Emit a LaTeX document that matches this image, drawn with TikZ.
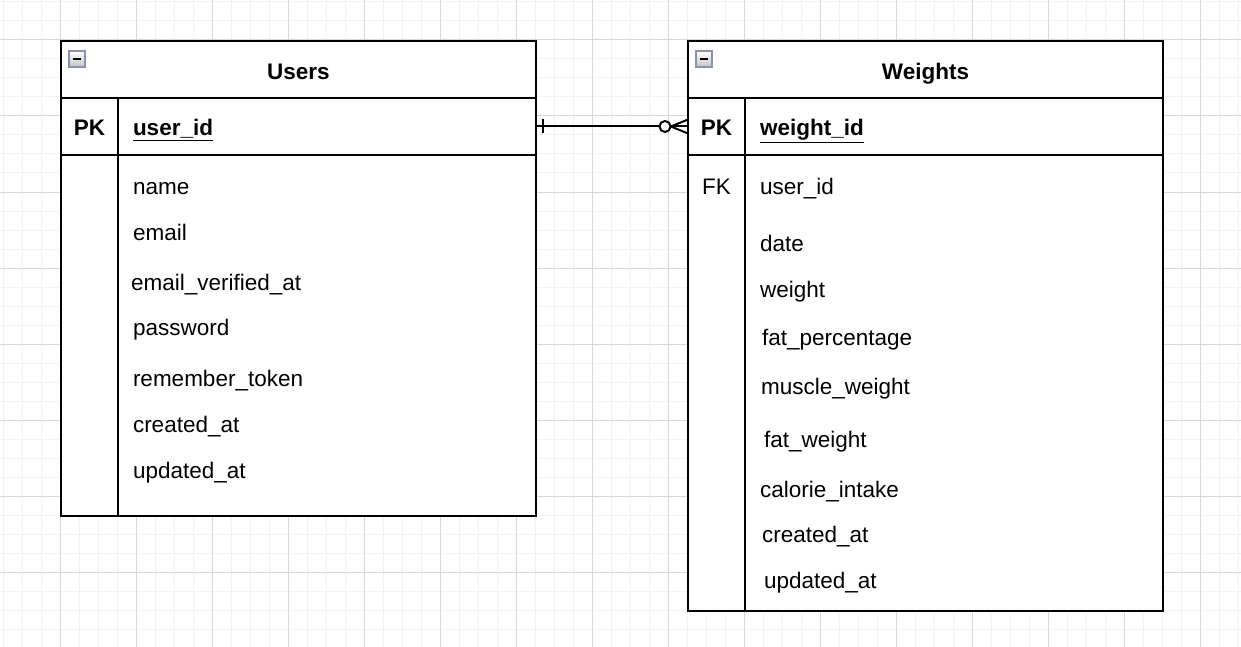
\documentclass[tikz,border=0pt]{standalone}
\usepackage{fontspec}
\setmainfont{Liberation Sans}
\begin{document}
\begin{tikzpicture}[x=1pt,y=-1pt,
  every node/.style={inner sep=0pt, outer sep=0pt},
  tbl/.style={draw=black, line width=2.2pt, fill=white, anchor=north west},
  sep/.style={draw=black, line width=2.2pt},
  fld/.style={anchor=base west, font=\fontsize{22.5}{27}\selectfont},
  key/.style={anchor=base, font=\fontsize{22.5}{27}\selectfont},
  ttl/.style={anchor=base, font=\fontsize{22.5}{27}\selectfont\bfseries},
  rel/.style={draw=black, line width=2pt},
  icon/.style={draw=iconborder, line width=1.8pt, top color=white, bottom color=icongrey, minimum width=16pt, minimum height=16pt, anchor=center},
  minorgrid/.style={draw=gridminor, line width=1pt},
  majorgrid/.style={draw=gridmajor, line width=1pt}
]
\definecolor{gridminor}{HTML}{F2F2F2}
\definecolor{gridmajor}{HTML}{D6D6D6}
\definecolor{iconborder}{HTML}{8A94A8}
\definecolor{icongrey}{HTML}{C4C4C4}
\useasboundingbox (0,0) rectangle (1241,647);
\fill[white] (0,0) rectangle (1241,647);
% grid
\foreach \i in {0,...,65} {
  \pgfmathsetmacro{\gx}{3.7+19*\i}
  \draw[minorgrid] (\gx,0) -- (\gx,647);
}
\foreach \i in {0,...,34} {
  \pgfmathsetmacro{\gy}{2+19*\i}
  \draw[minorgrid] (0,\gy) -- (1241,\gy);
}
\foreach \i in {0,...,16} {
  \pgfmathsetmacro{\gx}{60.7+76*\i}
  \draw[majorgrid] (\gx,0) -- (\gx,647);
}
\foreach \i in {0,...,8} {
  \pgfmathsetmacro{\gy}{40+76*\i}
  \draw[majorgrid] (0,\gy) -- (1241,\gy);
}
% Users table
\node[tbl, minimum width=475pt, minimum height=475pt] (users) at (61,41) {};
\draw[sep] (61,98) -- (536,98);
\draw[sep] (61,155) -- (536,155);
\draw[sep] (118,98) -- (118,516);
\node[minimum width=475pt, minimum height=57pt, anchor=north west] (usersPK) at (61,98) {};
\node[icon] (usersIcon) at (77,59) {};
\draw[line width=2.2pt] ([xshift=4pt]usersIcon.west) -- ([xshift=-4pt]usersIcon.east);
\node[ttl] (usersTitle) at (298.5,79.5) {Users};
\node[key, font=\fontsize{22.5}{27}\selectfont\bfseries] (usersPKlbl) at (89.5,136) {PK};
\node[fld, font=\fontsize{22.5}{27}\selectfont\bfseries] (usersId) at (133,136) {\underline{user\_id}};
\node[fld] (uName) at (133,194) {name};
\node[fld] (uEmail) at (133,240) {email};
\node[fld] (uEmailVer) at (131,290) {email\_verified\_at};
\node[fld] (uPassword) at (133,335) {password};
\node[fld] (uRemember) at (133,386) {remember\_token};
\node[fld] (uCreated) at (133,432) {created\_at};
\node[fld] (uUpdated) at (133,478) {updated\_at};
% Weights table
\node[tbl, minimum width=475pt, minimum height=570pt] (weights) at (688,41) {};
\draw[sep] (688,98) -- (1163,98);
\draw[sep] (688,155) -- (1163,155);
\draw[sep] (745,98) -- (745,611);
\node[minimum width=475pt, minimum height=57pt, anchor=north west] (weightsPK) at (688,98) {};
\node[icon] (weightsIcon) at (704,59) {};
\draw[line width=2.2pt] ([xshift=4pt]weightsIcon.west) -- ([xshift=-4pt]weightsIcon.east);
\node[ttl] (weightsTitle) at (925.5,79.5) {Weights};
\node[key, font=\fontsize{22.5}{27}\selectfont\bfseries] (weightsPKlbl) at (716.5,136) {PK};
\node[fld, font=\fontsize{22.5}{27}\selectfont\bfseries] (weightsId) at (760,136) {\underline{weight\_id}};
\node[key] (weightsFK) at (716.5,194) {FK};
\node[fld] (wUser) at (760,194) {user\_id};
\node[fld] (wDate) at (760,251) {date};
\node[fld] (wWeight) at (760,297) {weight};
\node[fld] (wFat) at (762,345) {fat\_percentage};
\node[fld] (wMuscle) at (761,394) {muscle\_weight};
\node[fld] (wFatW) at (764,447) {fat\_weight};
\node[fld] (wCal) at (760,497) {calorie\_intake};
\node[fld] (wCreated) at (762,542) {created\_at};
\node[fld] (wUpdated) at (764,588) {updated\_at};
% relation
\draw[rel] (usersPK.east) -- (weightsPK.west);
\draw[rel] ([xshift=7pt,yshift=-7pt]usersPK.east) -- ([xshift=7pt,yshift=7pt]usersPK.east);
\draw[rel, fill=white] ([xshift=-23pt]weightsPK.west) circle (5.5pt);
\draw[rel] ([xshift=-17pt]weightsPK.west) -- ([yshift=-7pt]weightsPK.west);
\draw[rel] ([xshift=-17pt]weightsPK.west) -- ([yshift=7pt]weightsPK.west);
\end{tikzpicture}
\end{document}
